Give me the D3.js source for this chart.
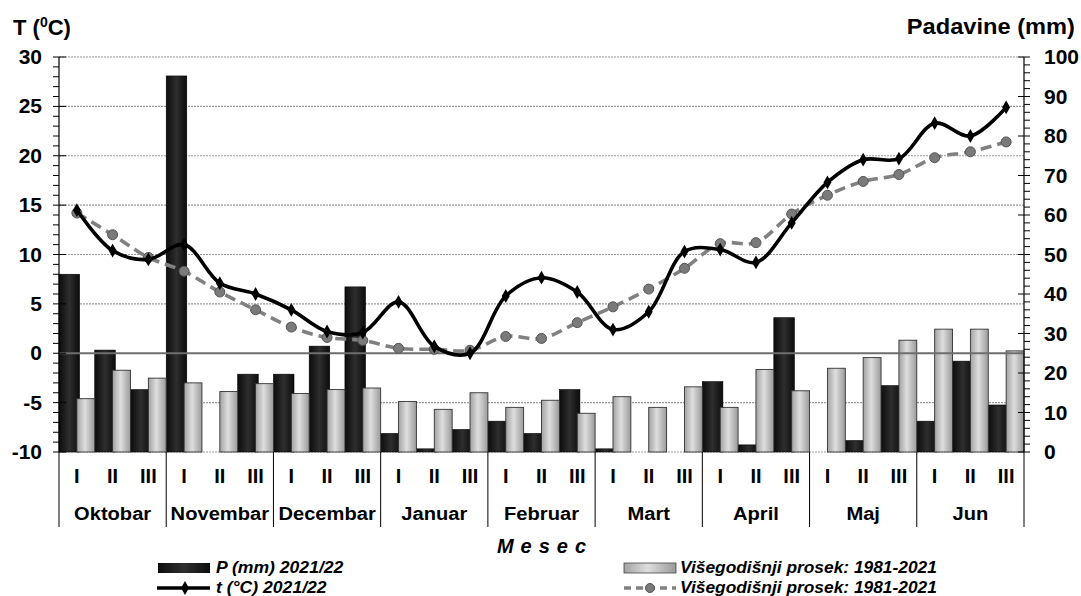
<!DOCTYPE html>
<html><head><meta charset="utf-8">
<script src="https://cdn.jsdelivr.net/npm/d3@7/dist/d3.min.js"></script>
<style>body{margin:0;background:#fff}svg{display:block;font-family:"Liberation Sans",Arial,sans-serif}</style>
</head><body><svg id="c" width="1081" height="596"></svg>
<script>
const decades = ["I","II","III"];
const months = ["Oktobar","Novembar","Decembar","Januar","Februar","Mart","April","Maj","Jun"];
const precip = [45,25.8,15.8, 95.2,0,19.7, 19.7,26.8,41.8, 4.7,0.8,5.7, 7.8,4.7,15.8, 0.8,0,0, 17.8,1.8,34.0, 0,2.9,16.8, 7.8,23.0,11.9];
const precipAvg = [13.5,20.7,18.7, 17.5,15.3,17.3, 14.8,15.8,16.2, 12.8,10.8,15.0, 11.3,13.1,9.8, 14.0,11.3,16.5, 11.3,20.9,15.5, 21.2,23.9,28.3, 31.1,31.1,25.6];
const temp = [14.5,10.4,9.5, 11.0,7.1,6.0, 4.4,2.2,2.1, 5.2,0.7,0.0, 5.8,7.65,6.2, 2.4,4.2,10.3, 10.5,9.2,13.2, 17.3,19.6,19.7, 23.3,22.0,24.9];
const tempAvg = [14.2,12.0,9.7, 8.3,6.2,4.4, 2.65,1.6,1.3, 0.5,0.4,0.3, 1.7,1.5,3.1, 4.7,6.5,8.6, 11.1,11.2,14.1, 16.0,17.4,18.1, 19.8,20.4,21.4];
const tempTicks = [-10,-5,0,5,10,15,20,25,30];
const precipTicks = [0,10,20,30,40,50,60,70,80,90,100];
const legendLabels = ["P (mm) 2021/22","t (°C) 2021/22","Višegodišnji prosek: 1981-2021","Višegodišnji prosek: 1981-2021"];

const svg = d3.select("#c");
const L = 59, R = 1024, T = 57, B = 452;
const idx = d3.range(27);
const x = d3.scaleBand().domain(idx).range([L, R]).paddingInner(0).paddingOuter(0);
const bw = x.bandwidth();
const yL = d3.scaleLinear().domain([-10, 30]).range([B, T]);
const yR = d3.scaleLinear().domain([0, 100]).range([B, T]);

function stretch(sel, sx) {
  sel.each(function () {
    const t = d3.select(this);
    const tx = +t.attr("x"), ty = +t.attr("y");
    t.attr("x", 0).attr("y", 0).attr("transform", `translate(${tx},${ty}) scale(${sx},1)`);
  });
}

const defs = svg.append("defs");
const gBlack = defs.append("linearGradient").attr("id","gb").attr("x1","0").attr("x2","1").attr("y1","0").attr("y2","0");
gBlack.append("stop").attr("offset","0").attr("stop-color","#0c0c0c");
gBlack.append("stop").attr("offset","0.5").attr("stop-color","#2e2e2e");
gBlack.append("stop").attr("offset","1").attr("stop-color","#0c0c0c");
const gGray = defs.append("linearGradient").attr("id","gg").attr("x1","0").attr("x2","1").attr("y1","0").attr("y2","0");
gGray.append("stop").attr("offset","0").attr("stop-color","#a2a2a2");
gGray.append("stop").attr("offset","0.45").attr("stop-color","#dedede");
gGray.append("stop").attr("offset","1").attr("stop-color","#9a9a9a");

// grid
svg.append("g").selectAll("line").data(tempTicks.filter(d => d !== 0)).join("line")
  .attr("x1", L).attr("x2", R).attr("y1", d => yL(d)).attr("y2", d => yL(d))
  .attr("stroke", "#9a9a9a").attr("stroke-width", 1.2).attr("stroke-dasharray", "2,1");

// bars
svg.append("g").selectAll("rect").data(idx).join("rect")
  .attr("x", i => x(i)).attr("width", bw * 0.575)
  .attr("y", i => yR(precip[i])).attr("height", i => B - yR(precip[i]))
  .attr("fill", "url(#gb)").attr("stroke", "#000").attr("stroke-width", 0.6);
svg.append("g").selectAll("rect").data(idx).join("rect")
  .attr("x", i => x(i) + bw * 0.5).attr("width", bw * 0.5)
  .attr("y", i => yR(precipAvg[i])).attr("height", i => B - yR(precipAvg[i]))
  .attr("fill", "url(#gg)").attr("stroke", "#333").attr("stroke-width", 0.9);

// zero line
svg.append("line").attr("x1", L).attr("x2", R).attr("y1", yL(0)).attr("y2", yL(0))
  .attr("stroke", "#6e6e6e").attr("stroke-width", 1.8);

const cx = i => x(i) + bw / 2;
// average temp line
const lineAvg = d3.line().x((d, i) => cx(i)).y(d => yL(d)).curve(d3.curveCatmullRom.alpha(0.5));
svg.append("path").attr("d", lineAvg(tempAvg)).attr("fill", "none")
  .attr("stroke", "#808080").attr("stroke-width", 3.6).attr("stroke-dasharray", "11,6");
svg.append("g").selectAll("circle").data(tempAvg).join("circle")
  .attr("cx", (d, i) => cx(i)).attr("cy", d => yL(d)).attr("r", 5)
  .attr("fill", "#7a7a7a").attr("stroke", "#555").attr("stroke-width", 1);

// temp line
const lineT = d3.line().x((d, i) => cx(i)).y(d => yL(d)).curve(d3.curveCatmullRom.alpha(0.5));
svg.append("path").attr("d", lineT(temp)).attr("fill", "none")
  .attr("stroke", "#000").attr("stroke-width", 3.6).attr("stroke-linejoin","round");
const diamond = d3.symbol().type(d3.symbolDiamond).size(55);
svg.append("g").selectAll("path").data(temp).join("path")
  .attr("transform", (d, i) => `translate(${cx(i)},${yL(d)})`).attr("d", diamond).attr("fill", "#000");

// left axis
svg.append("line").attr("x1", L).attr("x2", L).attr("y1", T).attr("y2", B).attr("stroke", "#000").attr("stroke-width", 1.2);
svg.append("g").selectAll("line").data(d3.range(-10, 31, 1)).join("line")
  .attr("x1", L - 6).attr("x2", d => d % 5 === 0 ? L + 7 : L)
  .attr("y1", d => yL(d)).attr("y2", d => yL(d)).attr("stroke", "#000").attr("stroke-width", 1);
stretch(svg.append("g").selectAll("text").data(tempTicks).join("text")
  .attr("x", 42).attr("y", d => yL(d) + 7).attr("text-anchor", "end")
  .attr("font-size", 20).attr("font-weight", "bold").text(d => d), 1.05);

// right axis
svg.append("line").attr("x1", R).attr("x2", R).attr("y1", T).attr("y2", B).attr("stroke", "#000").attr("stroke-width", 1.2);
svg.append("g").selectAll("line").data(d3.range(0, 101, 2)).join("line")
  .attr("x1", d => d % 10 === 0 ? R - 6 : R).attr("x2", R + 6)
  .attr("y1", d => yR(d)).attr("y2", d => yR(d)).attr("stroke", "#000").attr("stroke-width", 1);
stretch(svg.append("g").selectAll("text").data(precipTicks).join("text")
  .attr("x", 1044).attr("y", d => yR(d) + 7).attr("text-anchor", "start")
  .attr("font-size", 20).attr("font-weight", "bold").text(d => d), 1.05);

// axis titles
const tt = svg.append("text").attr("x", 13).attr("y", 35).attr("font-size", 22).attr("font-weight", "bold");
tt.append("tspan").text("T (");
tt.append("tspan").attr("font-size", 14).attr("dy", -8).text("0");
tt.append("tspan").attr("dy", 8).text("C)");
stretch(svg.append("text").attr("x", 1075).attr("y", 34).attr("text-anchor", "end")
  .attr("font-size", 22).attr("font-weight", "bold").text("Padavine (mm)"), 1.075);

// x axis
svg.append("g").selectAll("line").data(d3.range(0, 28, 3)).join("line")
  .attr("x1", i => i < 27 ? x(i) : R).attr("x2", i => i < 27 ? x(i) : R)
  .attr("y1", B).attr("y2", 527).attr("stroke", "#000").attr("stroke-width", 1);
svg.append("g").selectAll("text").data(idx).join("text")
  .attr("x", i => cx(i)).attr("y", 483).attr("text-anchor", "middle")
  .attr("font-size", 20).attr("font-weight", "bold").text(i => decades[i % 3]);
stretch(svg.append("g").selectAll("text").data(months).join("text")
  .attr("x", (d, m) => x(m * 3) + bw * 1.5).attr("y", 520).attr("text-anchor", "middle")
  .attr("font-size", 19).attr("font-weight", "bold").text(d => d), 1.06);
stretch(svg.append("text").attr("x", 545).attr("y", 553).attr("text-anchor", "middle")
  .attr("font-size", 20).attr("font-weight", "bold").attr("font-style", "italic")
  .attr("letter-spacing", 7).text("Mesec"), 1.0);

// legend
const lg = svg.append("g").attr("font-size", 16).attr("font-weight", "bold").attr("font-style", "italic");
lg.append("rect").attr("x", 158).attr("y", 563).attr("width", 52).attr("height", 10).attr("fill", "url(#gb)");
stretch(lg.append("text").attr("x", 216).attr("y", 573).text(legendLabels[0]), 1.1);
lg.append("line").attr("x1", 157).attr("x2", 210).attr("y1", 588).attr("y2", 588).attr("stroke", "#000").attr("stroke-width", 3.4);
lg.append("path").attr("transform", "translate(185,588)").attr("d", diamond).attr("fill", "#000");
stretch(lg.append("text").attr("x", 216).attr("y", 593).text(legendLabels[1]), 1.1);
lg.append("rect").attr("x", 624).attr("y", 563).attr("width", 52).attr("height", 10).attr("fill", "url(#gg)").attr("stroke", "#444").attr("stroke-width", 0.8);
stretch(lg.append("text").attr("x", 680).attr("y", 573).text(legendLabels[2]), 1.085);
lg.append("line").attr("x1", 624).attr("x2", 676).attr("y1", 588).attr("y2", 588).attr("stroke", "#808080").attr("stroke-width", 3.4).attr("stroke-dasharray", "7,5");
lg.append("circle").attr("cx", 650).attr("cy", 588).attr("r", 4.5).attr("fill", "#7a7a7a").attr("stroke", "#555");
stretch(lg.append("text").attr("x", 680).attr("y", 593).text(legendLabels[3]), 1.085);
</script></body></html>
